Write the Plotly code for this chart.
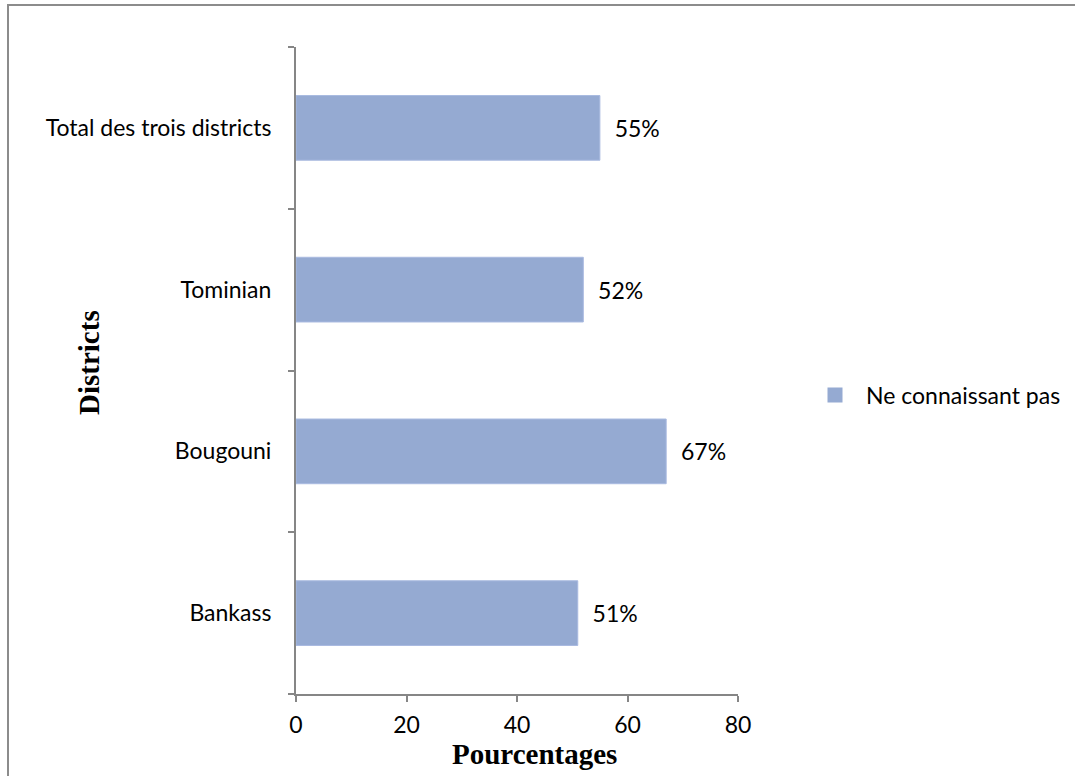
import plotly.graph_objects as go

districts = ["Bankass", "Bougouni", "Tominian", "Total des trois districts"]
pourcentages = [51, 67, 52, 55]
serie_nom = "Ne connaissant pas"
x_ticks = [0, 20, 40, 60, 80]

W, H = 1075, 776
L, R, T, B = 296, 738, 47, 694
COL = "#95AAD2"
FS = 23

fig = go.Figure()
fig.add_trace(go.Bar(
    y=districts, x=pourcentages, orientation="h", name=serie_nom, showlegend=False,
    marker=dict(color=COL, line=dict(color="#A9BAE0", width=1)),
    width=0.4,
    text=[f"  {v}%" for v in pourcentages], textposition="outside",
    textfont=dict(family="Lato", size=FS, color="#000000"),
    cliponaxis=False,
))
fig.add_trace(go.Scatter(
    x=[None], y=[None], mode="markers", name=serie_nom, showlegend=True,
    marker=dict(symbol="square", size=15, color=COL),
))

gray = "#868686"
fig.update_layout(
    width=W, height=H,
    margin=dict(l=L, r=W - R, t=T, b=H - B, pad=0, autoexpand=False),
    paper_bgcolor="white", plot_bgcolor="white",
    font=dict(family="Lato", size=FS, color="#000000"),
    showlegend=True,
    legend=dict(xref="container", yref="container", x=804 / W, y=1 - 395 / H,
                xanchor="left", yanchor="middle",
                font=dict(family="Lato", size=FS, color="#000000"),
                itemwidth=52, bgcolor="rgba(0,0,0,0)"),
    xaxis=dict(range=[0, 80], tickvals=x_ticks, ticks="outside", ticklen=6, tickcolor=gray,
               tickwidth=2, showline=True, linecolor=gray, linewidth=2, showgrid=False,
               zeroline=False, tickfont=dict(family="Lato", size=FS), ticklabelstandoff=3),
    yaxis=dict(categoryorder="array", categoryarray=districts, ticks="outside", ticklen=6,
               tickson="boundaries", tickcolor=gray, tickwidth=2, showline=True,
               linecolor=gray, linewidth=2, showgrid=False, zeroline=False,
               tickfont=dict(family="Lato", size=FS), ticklabelstandoff=18),
    bargap=0.6,
)

fig.add_annotation(text="<b>Pourcentages</b>", xref="paper", yref="paper",
                   x=(534 - L) / (R - L), y=(B - 754) / (B - T), showarrow=False,
                   xanchor="center", yanchor="middle",
                   font=dict(family="Liberation Serif", size=29, color="#000000"))
fig.add_annotation(text="<b>Districts</b>", xref="paper", yref="paper",
                   x=(89 - L) / (R - L), y=(B - 363) / (B - T), showarrow=False,
                   textangle=-90, xanchor="center", yanchor="middle",
                   font=dict(family="Liberation Serif", size=29, color="#000000"))

fig.add_shape(type="rect", xref="paper", yref="paper",
              x0=(8 - L) / (R - L), x1=(1090 - L) / (R - L),
              y0=(B - 800) / (B - T), y1=(B - 5) / (B - T),
              line=dict(color="#8C8C8C", width=2), fillcolor="rgba(0,0,0,0)", layer="below")

fig.write_html("out.html")
